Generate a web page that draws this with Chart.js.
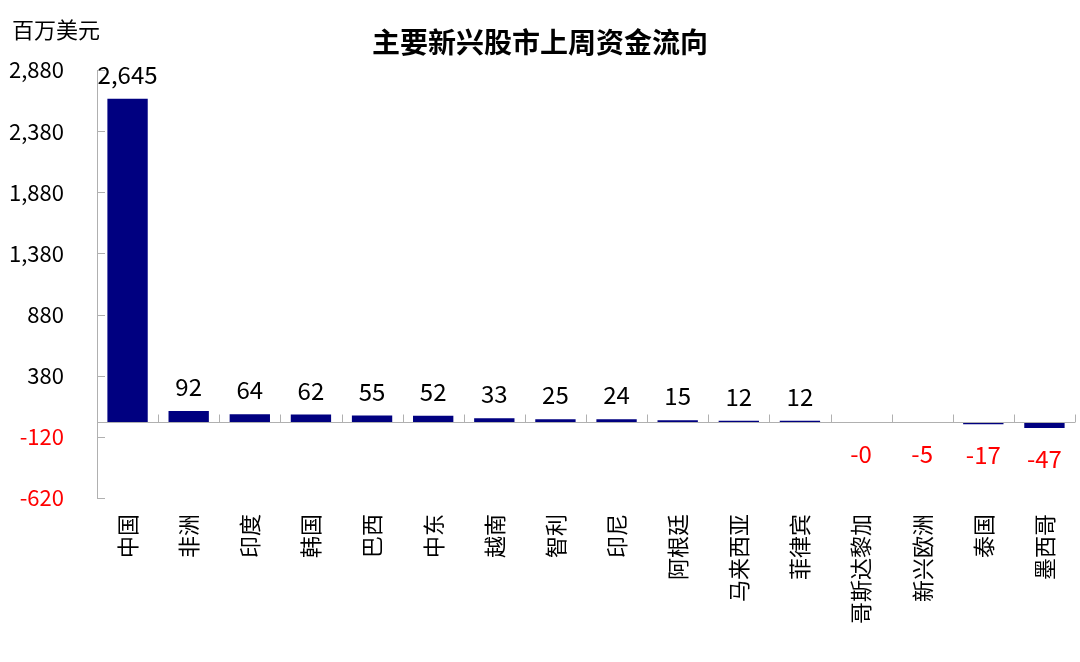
<!DOCTYPE html>
<html>
<head>
<meta charset="utf-8">
<script src="https://cdn.jsdelivr.net/npm/chart.js@4.4.1/dist/chart.umd.min.js"></script>
<style>
  html, body { margin: 0; padding: 0; background: #fff; }
  #wrap { width: 1080px; height: 662px; position: relative; }
</style>
</head>
<body>
<div id="wrap"><canvas id="grafica" width="1080" height="662"></canvas></div>
<script>
// datos
var paises = ['中国', '非洲', '印度', '韩国', '巴西', '中东', '越南', '智利', '印尼', '阿根廷', '马来西亚', '菲律宾', '哥斯达黎加', '新兴欧洲', '泰国', '墨西哥'];
var flujos = [2645, 92, 64, 62, 55, 52, 33, 25, 24, 15, 12, 12, -0.3, -5, -17, -47];
var marcasY = [-620, -120, 380, 880, 1380, 1880, 2380, 2880];
var titulo = '主要新兴股市上周资金流向';
var unidad = '百万美元';

var fuente = '"Noto Sans CJK SC", "Noto Sans", sans-serif';
var gris = '#b0b0b0';

function formato(v) {
    var n = Math.round(Math.abs(v)).toLocaleString('en-US');
    return v < 0 ? '-' + n : n;
}

var extras = {
    id: 'extras',
    afterDatasetsDraw: function (chart) {
        var ctx = chart.ctx;
        var area = chart.chartArea;
        var y = chart.scales.y;
        var cero = Math.round(y.getPixelForValue(0)) + 0.5;
        ctx.save();
        // linea de cero con marcas
        ctx.strokeStyle = gris;
        ctx.lineWidth = 1;
        ctx.beginPath();
        ctx.moveTo(area.left, cero);
        ctx.lineTo(area.right, cero);
        var paso = (area.right - area.left) / paises.length;
        for (var i = 1; i <= paises.length; i++) {
            var px = Math.round(area.left + paso * i) + 0.5;
            ctx.moveTo(px, cero);
            ctx.lineTo(px, cero - 8);
        }
        // marcas del eje y hacia dentro
        marcasY.forEach(function (m) {
            var py = Math.round(y.getPixelForValue(m)) + 0.5;
            ctx.moveTo(area.left, py);
            ctx.lineTo(area.left + 8, py);
        });
        ctx.stroke();

        // etiquetas de valores
        var barras = chart.getDatasetMeta(0).data;
        ctx.font = '24px ' + fuente;
        ctx.textAlign = 'center';
        barras.forEach(function (b, i) {
            var v = flujos[i];
            if (v >= 0) {
                ctx.fillStyle = '#000';
                ctx.textBaseline = 'bottom';
                ctx.fillText(formato(v), b.x, b.y - 12);
            } else {
                ctx.fillStyle = '#ff0000';
                ctx.textBaseline = 'top';
                ctx.fillText(formato(v), b.x, Math.max(b.y, cero) + 19);
            }
        });

        // titulos
        ctx.fillStyle = '#000';
        ctx.textBaseline = 'middle';
        ctx.textAlign = 'center';
        ctx.font = 'bold 28px ' + fuente;
        ctx.fillText(titulo, 540, 42);
        ctx.textAlign = 'left';
        ctx.font = '22px ' + fuente;
        ctx.fillText(unidad, 12, 30);
        ctx.restore();
    }
};

var ctx = document.getElementById('grafica').getContext('2d');
var grafica = new Chart(ctx, {
    type: 'bar',
    data: {
        labels: paises,
        datasets: [{
            data: flujos,
            backgroundColor: '#000080',
            borderWidth: 0,
            categoryPercentage: 1,
            barPercentage: 0.66
        }]
    },
    options: {
        responsive: false,
        animation: false,
        layout: { padding: { top: 70, right: 5, left: 0, bottom: 0 } },
        plugins: {
            legend: { display: false },
            tooltip: { enabled: false }
        },
        scales: {
            x: {
                grid: { display: false, drawTicks: false },
                border: { display: false },
                ticks: {
                    autoSkip: false,
                    maxRotation: 90,
                    minRotation: 90,
                    padding: 16,
                    color: '#000',
                    font: { family: fuente, size: 22 }
                },
                afterFit: function (s) {
                    s.height = 164;
                    s.paddingLeft = 0;
                    s.paddingRight = 0;
                }
            },
            y: {
                min: -620,
                max: 2880,
                grid: { display: false, drawTicks: false },
                border: { display: true, color: gris },
                afterBuildTicks: function (s) {
                    s.ticks = marcasY.map(function (v) { return { value: v }; });
                },
                ticks: {
                    padding: 33,
                    color: function (c) { return c.tick.value < 0 ? '#ff0000' : '#000'; },
                    font: { family: fuente, size: 22 },
                    callback: function (v) { return formato(v); }
                },
                afterFit: function (s) { s.width = 97; }
            }
        }
    },
    plugins: [extras]
});
</script>
</body>
</html>
